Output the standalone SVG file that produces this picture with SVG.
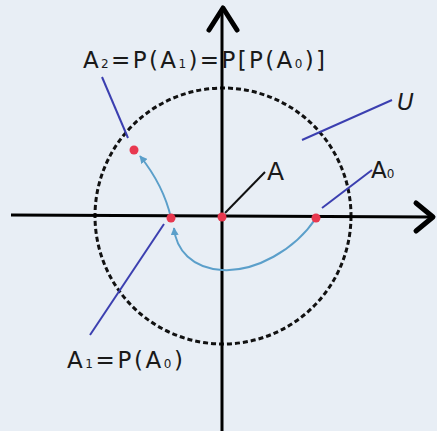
<svg xmlns="http://www.w3.org/2000/svg" width="437" height="431" viewBox="0 0 437 431">
<style>
.axis{stroke:#000;stroke-width:3;fill:none}
.head{stroke:#000;stroke-width:5;fill:none;stroke-linecap:round;stroke-linejoin:round}
.lead{stroke:#3b3fb0;stroke-width:2;fill:none}
.curve{stroke:#5b9fca;stroke-width:2;fill:none}
.dot{fill:#e8384f}
text{font-family:"DejaVu Sans","Liberation Sans",sans-serif;fill:#1a1a1a}
</style>
<defs>
<marker id="ah" viewBox="0 0 10 10" refX="9" refY="5" markerWidth="4" markerHeight="4" orient="auto" markerUnits="strokeWidth">
<path d="M0,0 L10,5 L0,10 z" fill="#5b9fca"/>
</marker>
</defs>
<rect width="437" height="431" fill="#e8eef5"/>
<g id="circle-U">
<circle cx="223" cy="216" r="128" fill="none" stroke="#111" stroke-width="3" stroke-dasharray="5 3"/>
</g>
<g id="axes">
<line class="axis" x1="11" y1="215" x2="432" y2="217"/>
<line class="axis" x1="222" y1="8" x2="222" y2="431"/>
<polyline class="head" points="209,30 223,8 237,30"/>
<polyline class="head" points="416,203 433,217 416,231"/>
</g>
<g id="connectors">
<path class="curve" d="M316,218 C295,250 255,272 222,270 C192,268 176,250 174,228" marker-end="url(#ah)"/>
<path class="curve" d="M171,218 C166,196 156,176 140,156" marker-end="url(#ah)"/>
<line class="lead" x1="102" y1="77" x2="128" y2="138"/>
<line class="lead" x1="302" y1="140" x2="392" y2="100"/>
<line class="lead" x1="322" y1="208" x2="372" y2="170"/>
<line class="lead" x1="90" y1="335" x2="164" y2="224"/>
<line stroke="#111" stroke-width="2" x1="225" y1="213" x2="265" y2="172"/>
</g>
<g id="node-A"><circle class="dot" cx="222" cy="217" r="4.5"/><text x="267" y="180" font-size="25">A</text></g>
<g id="node-A0"><circle class="dot" cx="316" cy="218" r="4.5"/><text x="371" y="178" font-size="23">A<tspan font-size="12">0</tspan></text></g>
<g id="node-A1"><circle class="dot" cx="171" cy="218" r="4.5"/><text x="67" y="368" font-size="23" textLength="116" lengthAdjust="spacing">A<tspan font-size="12">1</tspan>=P(A<tspan font-size="12">0</tspan>)</text></g>
<g id="node-A2"><circle class="dot" cx="134" cy="150" r="4.5"/><text x="83" y="68" font-size="23" textLength="242" lengthAdjust="spacing">A<tspan font-size="12">2</tspan>=P(A<tspan font-size="12">1</tspan>)=P[P(A<tspan font-size="12">0</tspan>)]</text></g>
<g id="label-U"><text x="397" y="110" font-size="23" font-style="italic">U</text></g>
</svg>
